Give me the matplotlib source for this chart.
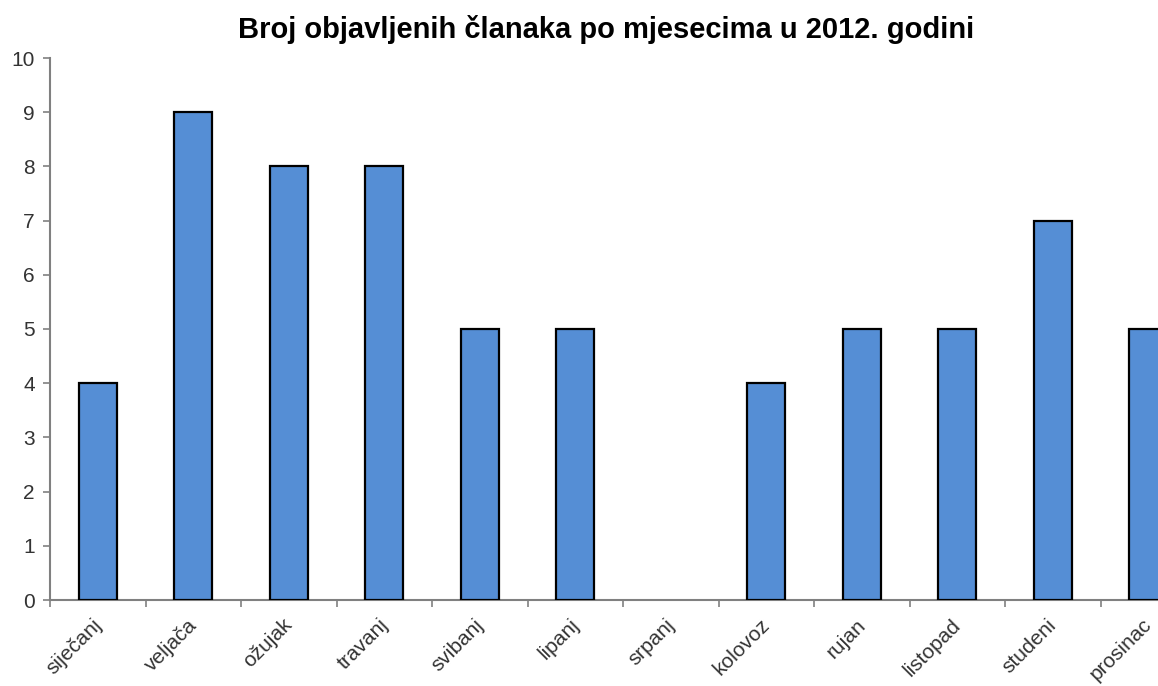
import matplotlib
matplotlib.use('Agg')
import matplotlib.pyplot as plt
import matplotlib.transforms as mtransforms
import numpy as np

months = ['siječanj', 'veljača', 'ožujak', 'travanj', 'svibanj', 'lipanj',
          'srpanj', 'kolovoz', 'rujan', 'listopad', 'studeni', 'prosinac']
counts = [4, 9, 8, 8, 5, 5, 0, 4, 5, 5, 7, 5]
title = 'Broj objavljenih članaka po mjesecima u 2012. godini'

plt.rcParams['font.family'] = ['Liberation Sans', 'DejaVu Sans']

fig = plt.figure(figsize=(11.58, 6.86), dpi=100)
# os ide malo preko desnog ruba (kao u originalu)
ax = fig.add_axes([50 / 1158, 86 / 686, 1146 / 1158, 542 / 686])

x = np.arange(len(months))
bars = ax.bar(x, counts, width=0.4, color='#558ED5', edgecolor='black', linewidth=1.6, zorder=3)
# stupac s vrijednosti 0 se ne vidi
for b, c in zip(bars, counts):
    if c == 0:
        b.set_edgecolor('none')

ax.set_xlim(-0.5, len(months) - 0.5)
ax.set_ylim(0, 10)
ax.set_yticks(range(0, 11))

ax.set_xticks(x)
ax.set_xticklabels(months, rotation=45, ha='right', rotation_mode='anchor')
ax.set_xticks(np.arange(-0.5, len(months), 1), minor=True)
ax.tick_params(axis='x', which='major', length=0, pad=11, labelsize=15, labelcolor='#333333')
ax.tick_params(axis='x', which='minor', length=5, width=1.2, color='#808080', direction='out')
ax.tick_params(axis='y', length=5, width=1.2, color='#808080', labelsize=15,
               labelcolor='#333333', pad=6)

# malo pomakni oznake ulijevo da "prosinac" stane
offset = mtransforms.ScaledTranslation(-6 / 100, 0, fig.dpi_scale_trans)
for lbl in ax.get_xticklabels():
    lbl.set_transform(lbl.get_transform() + offset)

for s in ['top', 'right']:
    ax.spines[s].set_visible(False)
for s in ['left', 'bottom']:
    ax.spines[s].set_color('#808080')
    ax.spines[s].set_linewidth(1.5)

fig.text(606 / 1158, 1 - 29 / 686, title, ha='center', va='center',
         fontsize=21, fontweight='bold', color='black')

fig.savefig('out.png', dpi=100)
